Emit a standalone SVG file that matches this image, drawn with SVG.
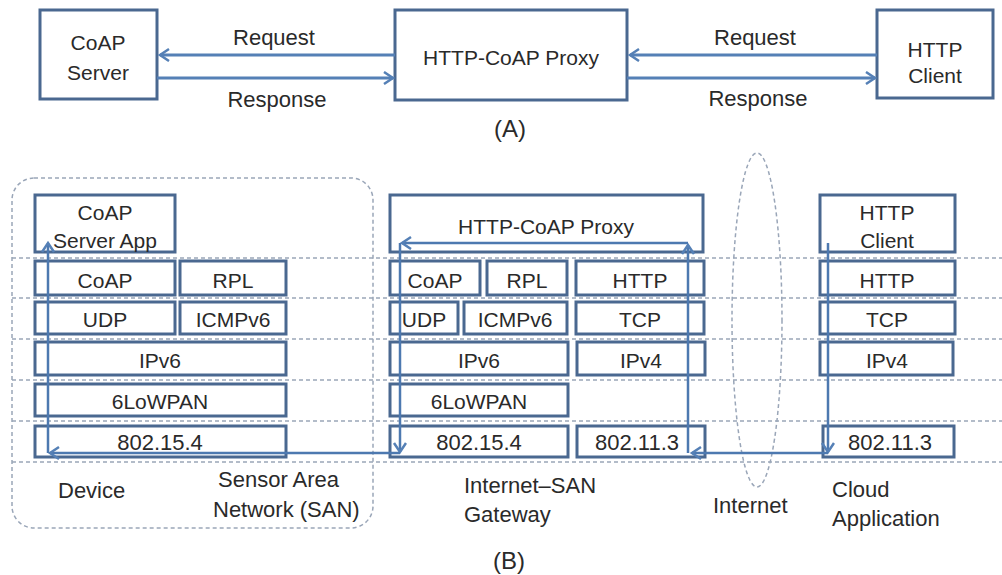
<svg xmlns="http://www.w3.org/2000/svg" width="1002" height="575" viewBox="0 0 1002 575">
  <style>
    .box { fill: none; stroke: #4a6890; stroke-width: 3; }
    .t { font-family: "Liberation Sans", Arial, sans-serif; font-size: 21px; fill: #2a2a2a; text-anchor: middle; }
    .num { font-size: 22px; }
    .lbl { font-family: "Liberation Sans", Arial, sans-serif; font-size: 22px; fill: #2a2a2a; }
    .cap { font-family: "Liberation Sans", Arial, sans-serif; font-size: 24px; fill: #2a2a2a; text-anchor: middle; }
    .flow { fill: none; stroke: #5580b6; stroke-width: 3; marker-end: url(#chev); }
    .flow2 { fill: none; stroke: #4d79b0; stroke-width: 2.5; marker-end: url(#chev); }
    .grid { fill: none; stroke: #9aa6b8; stroke-width: 1.5; stroke-dasharray: 4 3; }
  </style>
  <defs>
    <marker id="chev" markerUnits="userSpaceOnUse" markerWidth="16" markerHeight="16" refX="12" refY="7" orient="auto">
      <path d="M3,1 L12,7 L3,13" fill="none" stroke="#5580b6" stroke-width="2.5"/>
    </marker>
  </defs>
  <rect width="1002" height="575" fill="#ffffff"/>

  <!-- (A) request / response through the proxy -->
  <g id="a-coap-server">
    <rect class="box" x="40" y="10" width="117" height="89"/>
    <text class="t" x="98" y="50">CoAP</text>
    <text class="t" x="98" y="80">Server</text>
  </g>
  <g id="a-proxy">
    <rect class="box" x="395" y="10" width="232" height="90"/>
    <text class="t" x="511" y="65">HTTP-CoAP Proxy</text>
  </g>
  <g id="a-http-client">
    <rect class="box" x="877" y="10" width="116" height="88"/>
    <text class="t" x="935" y="57">HTTP</text>
    <text class="t" x="935" y="83">Client</text>
  </g>
  <g id="a-connectors">
    <line class="flow" x1="395" y1="55" x2="160" y2="55"/>
    <line class="flow" x1="157" y1="78" x2="393" y2="78"/>
    <line class="flow" x1="877" y1="55" x2="630" y2="55"/>
    <line class="flow" x1="627" y1="78" x2="875" y2="78"/>
    <text class="lbl" x="274" y="45" text-anchor="middle">Request</text>
    <text class="lbl" x="277" y="107" text-anchor="middle">Response</text>
    <text class="lbl" x="755" y="45" text-anchor="middle">Request</text>
    <text class="lbl" x="758" y="106" text-anchor="middle">Response</text>
  </g>
  <text class="cap" x="510" y="137">(A)</text>

  <!-- (B) protocol stacks -->
  <g id="b-background">
    <rect class="grid" x="12" y="178" width="361" height="350" rx="22"/>
    <ellipse class="grid" cx="757" cy="320" rx="25" ry="167"/>
    <line class="grid" x1="12" y1="258" x2="1002" y2="258"/>
    <line class="grid" x1="12" y1="298" x2="1002" y2="298"/>
    <line class="grid" x1="12" y1="339" x2="1002" y2="339"/>
    <line class="grid" x1="12" y1="380" x2="1002" y2="380"/>
    <line class="grid" x1="12" y1="421" x2="1002" y2="421"/>
    <line class="grid" x1="12" y1="462" x2="1002" y2="462"/>
  </g>

  <g id="device-app">
    <rect class="box" x="35" y="195" width="140" height="57"/>
    <text class="t" x="105" y="220">CoAP</text>
    <text class="t" x="105" y="248">Server App</text>
  </g>
  <g id="device-coap"><rect class="box" x="35" y="261" width="140" height="34"/><text class="t" x="105" y="288">CoAP</text></g>
  <g id="device-rpl"><rect class="box" x="180" y="261" width="106" height="34"/><text class="t" x="233" y="288">RPL</text></g>
  <g id="device-udp"><rect class="box" x="35" y="302" width="140" height="32"/><text class="t" x="105" y="327">UDP</text></g>
  <g id="device-icmpv6"><rect class="box" x="180" y="302" width="106" height="32"/><text class="t" x="233" y="327">ICMPv6</text></g>
  <g id="device-ipv6"><rect class="box" x="35" y="342" width="251" height="33"/><text class="t" x="160" y="368">IPv6</text></g>
  <g id="device-6lowpan"><rect class="box" x="35" y="384" width="251" height="32"/><text class="t" x="160" y="409">6LoWPAN</text></g>
  <g id="device-802154"><rect class="box" x="35" y="426" width="251" height="31"/><text class="t num" x="160" y="450">802.15.4</text></g>

  <g id="gw-proxy">
    <rect class="box" x="390" y="195" width="313" height="57"/>
    <text class="t" x="546" y="234">HTTP-CoAP Proxy</text>
  </g>
  <g id="gw-coap"><rect class="box" x="390" y="261" width="90" height="34"/><text class="t" x="435" y="288">CoAP</text></g>
  <g id="gw-rpl"><rect class="box" x="487" y="261" width="80" height="34"/><text class="t" x="527" y="288">RPL</text></g>
  <g id="gw-http"><rect class="box" x="576" y="261" width="128" height="34"/><text class="t" x="640" y="288">HTTP</text></g>
  <g id="gw-udp"><rect class="box" x="390" y="302" width="68" height="32"/><text class="t" x="424" y="327">UDP</text></g>
  <g id="gw-icmpv6"><rect class="box" x="464" y="302" width="103" height="32"/><text class="t" x="515" y="327">ICMPv6</text></g>
  <g id="gw-tcp"><rect class="box" x="576" y="302" width="128" height="32"/><text class="t" x="640" y="327">TCP</text></g>
  <g id="gw-ipv6"><rect class="box" x="390" y="342" width="178" height="33"/><text class="t" x="479" y="368">IPv6</text></g>
  <g id="gw-ipv4"><rect class="box" x="577" y="342" width="128" height="33"/><text class="t" x="641" y="368">IPv4</text></g>
  <g id="gw-6lowpan"><rect class="box" x="390" y="384" width="178" height="32"/><text class="t" x="479" y="409">6LoWPAN</text></g>
  <g id="gw-802154"><rect class="box" x="390" y="426" width="178" height="31"/><text class="t num" x="479" y="450">802.15.4</text></g>
  <g id="gw-80211"><rect class="box" x="577" y="426" width="128" height="31"/><text class="t num" x="637" y="450">802.11.3</text></g>

  <g id="cloud-client">
    <rect class="box" x="820" y="195" width="135" height="57"/>
    <text class="t" x="887" y="220">HTTP</text>
    <text class="t" x="887" y="248">Client</text>
  </g>
  <g id="cloud-http"><rect class="box" x="820" y="261" width="135" height="34"/><text class="t" x="887" y="288">HTTP</text></g>
  <g id="cloud-tcp"><rect class="box" x="820" y="302" width="135" height="32"/><text class="t" x="887" y="327">TCP</text></g>
  <g id="cloud-ipv4"><rect class="box" x="820" y="342" width="133" height="33"/><text class="t" x="887" y="368">IPv4</text></g>
  <g id="cloud-80211"><rect class="box" x="823" y="426" width="131" height="31"/><text class="t num" x="890" y="450">802.11.3</text></g>

  <!-- message path from the cloud client down to the device application -->
  <g id="b-connectors">
    <line class="flow2" x1="828" y1="243" x2="828" y2="452"/>
    <line class="flow2" x1="828" y1="453" x2="692" y2="453"/>
    <line class="flow2" x1="688" y1="453" x2="688" y2="245"/>
    <line class="flow2" x1="688" y1="243" x2="402" y2="243"/>
    <line class="flow2" x1="400" y1="243" x2="400" y2="452"/>
    <line class="flow2" x1="400" y1="453" x2="50" y2="453"/>
    <line class="flow2" x1="48" y1="453" x2="48" y2="243"/>
  </g>

  <g id="b-labels">
    <text class="lbl" x="58" y="498">Device</text>
    <text class="lbl" x="218" y="487">Sensor Area</text>
    <text class="lbl" x="213" y="517">Network (SAN)</text>
    <text class="lbl" x="464" y="493">Internet–SAN</text>
    <text class="lbl" x="464" y="522">Gateway</text>
    <text class="lbl" x="713" y="513">Internet</text>
    <text class="lbl" x="832" y="497">Cloud</text>
    <text class="lbl" x="832" y="526">Application</text>
  </g>
  <text class="cap" x="509" y="569">(B)</text>
</svg>
